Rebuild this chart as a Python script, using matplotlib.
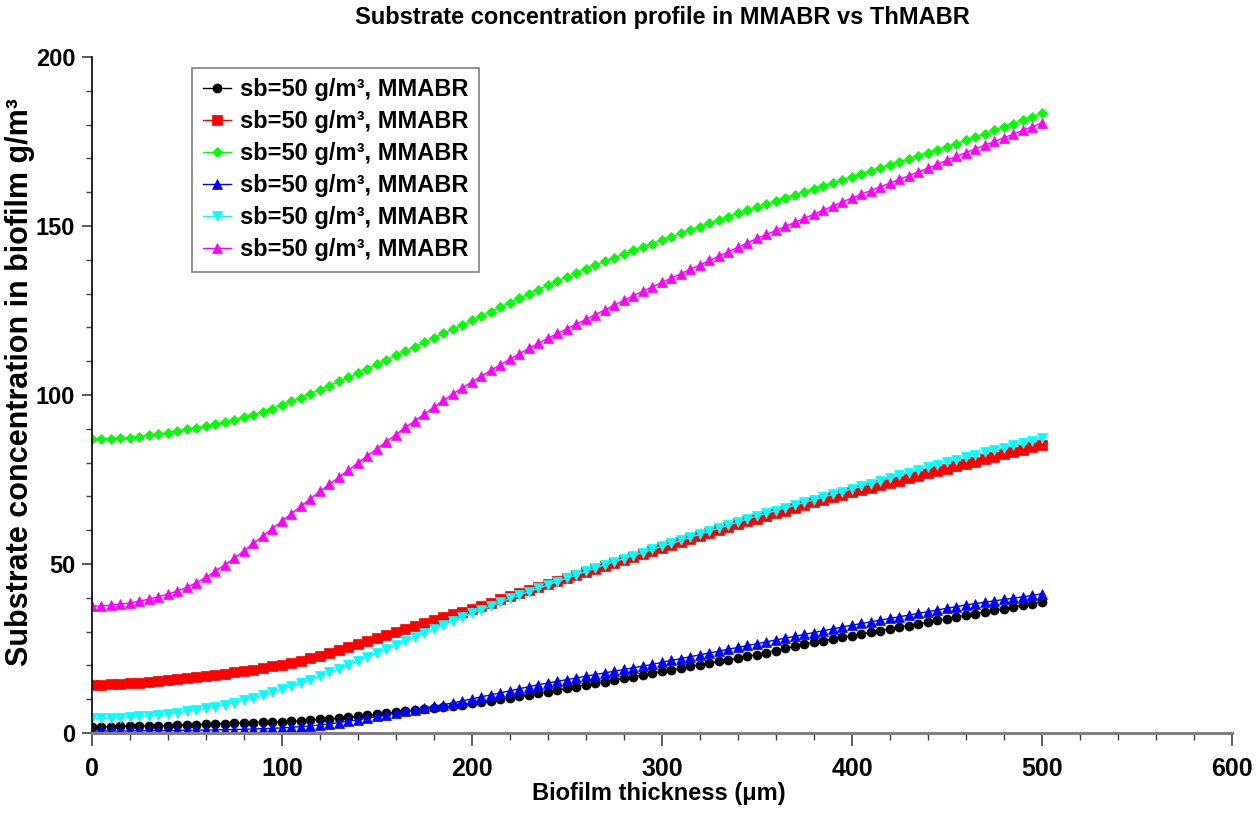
import matplotlib
matplotlib.use("Agg")
import matplotlib.pyplot as plt
from matplotlib.ticker import MultipleLocator

# =======================
# DATA
# =======================
THICKNESS = list(range(0, 505, 5))  # um, step 5

BLACK = [
    1.9, 1.9, 1.9, 2.0, 2.0, 2.1, 2.1, 2.2, 2.2, 2.3,
    2.4, 2.5, 2.6, 2.7, 2.8, 2.9, 3.0, 3.1, 3.2, 3.3,
    3.4, 3.5, 3.6, 3.8, 4.0, 4.2, 4.4, 4.6, 4.9, 5.2,
    5.5, 5.8, 6.1, 6.4, 6.7, 7.0, 7.3, 7.6, 8.0, 8.4,
    8.8, 9.2, 9.6, 10.0, 10.4, 10.8, 11.2, 11.7, 12.2, 12.7,
    13.2, 13.7, 14.2, 14.7, 15.2, 15.7, 16.2, 16.7, 17.2, 17.7,
    18.2, 18.7, 19.2, 19.7, 20.2, 20.7, 21.2, 21.7, 22.2, 22.7,
    23.2, 23.8, 24.4, 25.0, 25.6, 26.2, 26.8, 27.3, 27.8, 28.3,
    28.8, 29.3, 29.8, 30.3, 30.8, 31.3, 31.8, 32.3, 32.8, 33.3,
    33.8, 34.3, 34.8, 35.3, 35.8, 36.3, 36.8, 37.3, 37.8, 38.3,
    38.9,
]

RED = [
    14.2, 14.3, 14.4, 14.5, 14.7, 14.9, 15.1, 15.3, 15.6, 15.9,
    16.2, 16.5, 16.8, 17.1, 17.5, 17.9, 18.3, 18.7, 19.2, 19.7,
    20.2, 20.8, 21.4, 22.1, 22.8, 23.6, 24.5, 25.4, 26.3, 27.2,
    28.1, 29.0, 29.9, 30.8, 31.7, 32.6, 33.5, 34.3, 35.1, 35.9,
    36.8, 37.7, 38.6, 39.5, 40.4, 41.3, 42.2, 43.1, 44.0, 44.9,
    45.8, 46.7, 47.6, 48.5, 49.4, 50.3, 51.2, 52.1, 53.0, 53.9,
    54.8, 55.7, 56.6, 57.5, 58.4, 59.3, 60.2, 61.0, 61.8, 62.6,
    63.4, 64.2, 65.0, 65.8, 66.6, 67.4, 68.2, 69.0, 69.8, 70.5,
    71.2, 71.9, 72.6, 73.3, 74.0, 74.7, 75.4, 76.1, 76.8, 77.5,
    78.2, 78.9, 79.6, 80.3, 81.0, 81.7, 82.4, 83.1, 83.8, 84.5,
    85.2,
]

GREEN = [
    87.0, 87.0, 87.1, 87.2, 87.4, 87.7, 88.1, 88.5, 88.9, 89.3,
    89.8, 90.3, 90.8, 91.3, 91.9, 92.6, 93.4, 94.2, 95.1, 96.0,
    97.0, 98.1, 99.2, 100.4, 101.6, 102.8, 104.0, 105.2, 106.5, 107.8,
    109.1, 110.4, 111.7, 113.0, 114.3, 115.6, 116.9, 118.2, 119.5, 120.8,
    122.1, 123.4, 124.7, 126.0, 127.3, 128.6, 129.9, 131.2, 132.5, 133.7,
    134.9, 136.1, 137.3, 138.4, 139.5, 140.6, 141.7, 142.8, 143.8, 144.8,
    145.8, 146.8, 147.8, 148.8, 149.8, 150.8, 151.8, 152.8, 153.7, 154.6,
    155.5, 156.4, 157.3, 158.2, 159.1, 160.0, 160.9, 161.8, 162.7, 163.6,
    164.5, 165.4, 166.3, 167.2, 168.1, 169.0, 169.9, 170.8, 171.7, 172.6,
    173.5, 174.4, 175.3, 176.3, 177.3, 178.3, 179.3, 180.3, 181.3, 182.3,
    183.3,
]

BLUE = [
    0.6, 0.6, 0.6, 0.6, 0.6, 0.7, 0.7, 0.7, 0.7, 0.8,
    0.8, 0.8, 0.9, 0.9, 1.0, 1.0, 1.1, 1.2, 1.3, 1.4,
    1.5, 1.7, 1.9, 2.1, 2.4, 2.7, 3.1, 3.5, 3.9, 4.4,
    4.9, 5.4, 5.9, 6.4, 6.9, 7.4, 7.9, 8.4, 8.9, 9.5,
    10.1, 10.7, 11.3, 11.9, 12.5, 13.1, 13.7, 14.3, 14.8, 15.3,
    15.8, 16.3, 16.8, 17.3, 17.8, 18.3, 18.8, 19.3, 19.8, 20.3,
    20.9, 21.5, 22.0, 22.6, 23.1, 23.7, 24.2, 24.8, 25.3, 25.9,
    26.4, 27.0, 27.5, 28.1, 28.6, 29.2, 29.7, 30.3, 30.8, 31.4,
    31.9, 32.4, 32.9, 33.4, 33.9, 34.4, 34.9, 35.4, 35.9, 36.4,
    36.9, 37.4, 37.9, 38.3, 38.7, 39.1, 39.5, 39.9, 40.3, 40.7,
    41.2,
]

CYAN = [
    4.3, 4.3, 4.4, 4.5, 4.7, 4.9, 5.1, 5.4, 5.7, 6.0,
    6.4, 6.8, 7.3, 7.8, 8.4, 9.0, 9.7, 10.4, 11.2, 12.0,
    12.9, 13.8, 14.8, 15.8, 16.8, 17.9, 19.0, 20.1, 21.2, 22.4,
    23.6, 24.8, 26.0, 27.2, 28.4, 29.6, 30.8, 32.0, 33.2, 34.3,
    35.4, 36.5, 37.6, 38.7, 39.8, 40.8, 41.8, 42.8, 43.8, 44.8,
    45.8, 46.8, 47.8, 48.8, 49.8, 50.7, 51.6, 52.5, 53.4, 54.3,
    55.2, 56.1, 57.0, 57.9, 58.8, 59.7, 60.6, 61.5, 62.4, 63.3,
    64.2, 65.0, 65.8, 66.6, 67.4, 68.2, 69.0, 69.8, 70.6, 71.4,
    72.2, 73.0, 73.8, 74.6, 75.4, 76.2, 77.0, 77.8, 78.6, 79.4,
    80.2, 80.9, 81.6, 82.3, 83.0, 83.7, 84.4, 85.1, 85.8, 86.5,
    87.2,
]

MAGENTA = [
    37.5, 37.6, 37.8, 38.1, 38.5, 39.0, 39.6, 40.3, 41.1, 42.0,
    43.1, 44.5, 46.1, 47.9, 49.8, 51.8, 53.9, 56.1, 58.3, 60.5,
    62.7, 64.9, 67.1, 69.3, 71.5, 73.6, 75.7, 77.8, 79.9, 82.0,
    84.1, 86.2, 88.3, 90.4, 92.4, 94.4, 96.4, 98.4, 100.3, 102.1,
    103.9, 105.6, 107.3, 109.0, 110.6, 112.2, 113.8, 115.3, 116.8, 118.2,
    119.6, 121.0, 122.4, 123.8, 125.2, 126.6, 128.0, 129.4, 130.7, 132.0,
    133.3, 134.6, 135.9, 137.2, 138.5, 139.8, 141.1, 142.4, 143.7, 145.0,
    146.3, 147.5, 148.7, 149.9, 151.1, 152.3, 153.5, 154.7, 155.9, 157.1,
    158.3, 159.4, 160.5, 161.6, 162.7, 163.8, 164.9, 166.0, 167.1, 168.2,
    169.5, 170.6, 171.7, 172.8, 173.9, 175.0, 176.1, 177.2, 178.3, 179.4,
    180.5,
]

LABEL = "sb=50 g/m\u00b3, MMABR"
SERIES = [
    (BLACK, "#000000", "o", 6.5),
    (RED, "#ff0000", "s", 6.5),
    (GREEN, "#00ff00", "D", 5.5),
    (BLUE, "#0000ff", "^", 7.0),
    (CYAN, "#00ffff", "v", 7.0),
    (MAGENTA, "#ff00ff", "^", 7.0),
]

FONT = ["Liberation Sans", "DejaVu Sans"]


def main():
    fig = plt.figure(figsize=(12.58, 8.13), dpi=100)
    ax = fig.add_axes([0.0731, 0.0984, 0.9062, 0.8315])

    for values, color, marker, size in SERIES:
        ax.plot(THICKNESS, values, color=color, lw=1.0, marker=marker,
                markersize=size, markeredgewidth=0.5, label=LABEL)

    ax.set_xlim(0, 600)
    ax.set_ylim(0, 200)
    ax.xaxis.set_major_locator(MultipleLocator(100))
    ax.xaxis.set_minor_locator(MultipleLocator(20))
    ax.yaxis.set_major_locator(MultipleLocator(50))
    ax.yaxis.set_minor_locator(MultipleLocator(10))

    ax.spines["top"].set_visible(False)
    ax.spines["right"].set_visible(False)
    ax.spines["bottom"].set_color("#808080")
    ax.spines["bottom"].set_linewidth(2.2)
    ax.spines["left"].set_linewidth(1.2)
    ax.tick_params(axis="x", which="major", direction="out", length=9,
                   width=1.2, color="#404040", pad=8)
    ax.tick_params(axis="x", which="minor", direction="out", length=5,
                   width=1.0, color="#404040")
    ax.tick_params(axis="y", which="major", direction="out", length=7,
                   width=1.2, color="#404040", pad=5)
    ax.tick_params(axis="y", which="minor", direction="out", length=4,
                   width=1.0, color="#404040")

    for lab in ax.get_xticklabels():
        lab.set_family(FONT)
        lab.set_fontweight("bold")
        lab.set_fontsize(18)
    for lab in ax.get_yticklabels():
        lab.set_family(FONT)
        lab.set_fontweight("bold")
        lab.set_fontsize(17)

    ax.set_title("Substrate concentration profile in MMABR vs ThMABR",
                 family=FONT, fontweight="bold", fontsize=17, pad=24)
    ax.set_xlabel("Biofilm thickness (\u03bcm)", family=FONT,
                  fontweight="bold", fontsize=17)
    ax.xaxis.set_label_coords(0.497, -0.072)
    ax.set_ylabel("Substrate concentration in biofilm g/m\u00b3", family=FONT,
                  fontweight="bold", fontsize=22)
    ax.yaxis.set_label_coords(-0.05, 0.519)

    leg = ax.legend(loc="upper left", bbox_to_anchor=(0.0877, 0.984),
                    borderaxespad=0.0,
                    prop={"family": FONT, "weight": "bold", "size": 17},
                    frameon=True, fancybox=False, edgecolor="#606060",
                    handlelength=1.2, handletextpad=0.4, labelspacing=0.38,
                    borderpad=0.45)
    leg.get_frame().set_linewidth(1.2)

    fig.savefig("out.png", dpi=100)
    plt.close(fig)


if __name__ == "__main__":
    main()
